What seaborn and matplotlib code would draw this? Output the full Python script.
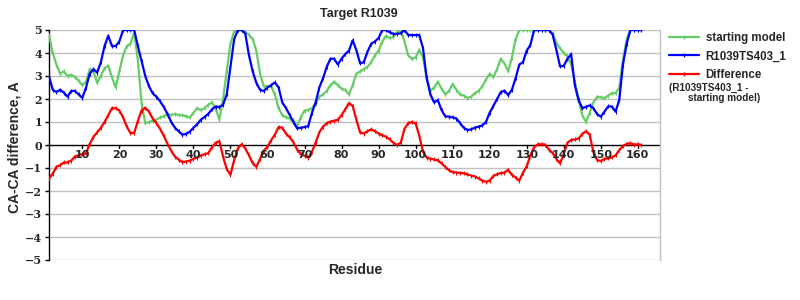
import numpy as np
import pandas as pd
import matplotlib
matplotlib.use("Agg")
import matplotlib.pyplot as plt
import seaborn as sns
from matplotlib.lines import Line2D

residues = list(range(1, 162))

starting_model = [
    4.8, 4.0, 3.5, 3.1, 3.2, 3.0, 3.05, 2.95, 2.8, 2.6,
    2.75, 3.3, 3.2, 2.7, 3.0, 3.35, 3.45, 2.95, 2.5, 3.2,
    3.9, 4.3, 4.4, 4.9, 3.7, 1.8, 0.95, 1.0, 1.05, 1.1,
    1.2, 1.25, 1.35, 1.3, 1.35, 1.3, 1.3, 1.25, 1.2, 1.4,
    1.6, 1.52, 1.6, 1.75, 1.85, 1.6, 1.1, 2.0, 3.2, 4.4,
    4.95, 5.0, 5.0, 4.9, 4.8, 4.6, 4.1, 3.1, 2.55, 2.55,
    2.55, 2.2, 1.6, 1.3, 1.2, 1.15, 1.1, 0.8, 1.2, 1.5,
    1.52, 1.6, 1.8, 2.1, 2.2, 2.35, 2.6, 2.75, 2.6, 2.45,
    2.4, 2.2, 2.6, 3.1, 3.2, 3.3, 3.4, 3.6, 3.9, 4.1,
    4.5, 4.75, 4.65, 4.7, 4.9, 5.0, 4.5, 3.9, 3.75, 3.8,
    4.15, 3.8, 2.9, 2.35, 2.5, 2.75, 2.45, 2.2, 2.35, 2.65,
    2.4, 2.2, 2.15, 2.05, 2.1, 2.25, 2.35, 2.55, 2.85, 3.1,
    2.95, 3.3, 3.75, 3.55, 3.2, 3.8, 4.6, 5.0, 5.0, 5.0,
    5.0, 5.0, 5.0, 5.0, 5.0, 5.0, 4.85, 4.45, 4.2, 4.0,
    3.85, 3.5, 2.75, 2.0, 1.3, 1.0, 1.4, 1.85, 2.1, 2.08,
    2.03, 2.15, 2.25, 2.25, 2.5, 3.7, 4.6, 5.0, 5.0, 5.0,
    5.0,
]

model_403 = [
    3.0, 2.4, 2.3, 2.4, 2.28, 2.1, 2.35, 2.35, 2.2, 2.05,
    2.5, 3.1, 3.3, 3.15, 3.6, 4.3, 4.75, 4.3, 4.3, 4.5,
    5.0, 5.0, 5.0, 5.0, 4.3, 3.65, 3.0, 2.55, 2.25, 2.1,
    1.9, 1.65, 1.35, 1.0, 0.75, 0.6, 0.45, 0.48, 0.58, 0.75,
    0.9, 1.1, 1.22, 1.35, 1.55, 1.67, 1.65, 1.75, 2.2, 3.4,
    4.6, 5.0, 5.0, 4.85, 3.9, 3.2, 2.7, 2.4, 2.35, 2.5,
    2.6, 2.72, 2.5, 1.85, 1.6, 1.3, 1.0, 0.72, 0.75, 0.78,
    0.82, 1.4, 1.85, 2.5, 2.9, 3.4, 3.75, 3.75, 3.5, 3.75,
    3.95, 4.1, 4.55, 4.13, 3.55, 3.6, 4.05, 4.4, 4.5, 4.65,
    5.0, 5.0, 4.9, 4.83, 4.83, 4.86, 5.0, 4.78, 4.78, 4.78,
    4.78, 4.2, 2.9, 2.2, 1.85, 1.95, 1.52, 1.25, 1.23, 1.2,
    1.15, 0.95, 0.75, 0.65, 0.68, 0.75, 0.8, 0.85, 1.0, 1.4,
    1.7, 2.0, 2.3, 2.36, 2.17, 2.4, 2.9, 3.5, 3.6, 4.1,
    4.35, 5.0, 5.0, 5.0, 5.0, 5.0, 4.8, 4.15, 3.42, 3.44,
    3.75, 3.95, 2.6, 1.95, 1.6, 1.66, 1.72, 1.6, 1.35, 1.23,
    1.45, 1.68, 1.67, 1.45, 1.96, 3.5, 4.4, 5.0, 5.0, 5.0,
    5.0,
]

difference = [
    -1.47, -1.25, -0.95, -0.88, -0.76, -0.76, -0.68, -0.5, -0.44, -0.4,
    -0.36, 0.05, 0.35, 0.55, 0.75, 1.0, 1.3, 1.6, 1.6, 1.5,
    1.2, 0.8, 0.52, 0.52, 1.05, 1.5, 1.62, 1.45, 1.15, 0.95,
    0.7, 0.4, 0.05, -0.25, -0.5, -0.64, -0.74, -0.72, -0.68, -0.6,
    -0.55, -0.46, -0.4, -0.36, -0.1, 0.1, 0.17, -0.5, -1.05, -1.3,
    -0.65, -0.15, 0.03, -0.15, -0.45, -0.79, -0.95, -0.6, -0.25, -0.08,
    0.21, 0.45, 0.78, 0.75, 0.5, 0.33, 0.12, -0.2, -0.4, -0.47,
    -0.55, -0.3, 0.1, 0.55, 0.8, 0.95, 1.02, 1.05, 1.1, 1.3,
    1.55, 1.82, 1.7, 1.1, 0.55, 0.5, 0.6, 0.68, 0.6, 0.5,
    0.42, 0.36, 0.25, 0.1, 0.0, 0.1, 0.7, 0.95, 1.0, 0.94,
    0.4, -0.3, -0.55, -0.6, -0.63, -0.67, -0.8, -0.95, -1.1, -1.18,
    -1.2, -1.21, -1.23, -1.28, -1.33, -1.37, -1.45, -1.55, -1.6, -1.55,
    -1.35, -1.27, -1.22, -1.2, -1.07, -1.3, -1.42, -1.55, -1.2, -0.93,
    -0.45, -0.1, 0.03, 0.03, 0.02, -0.2, -0.35, -0.6, -0.8, -0.4,
    0.1, 0.22, 0.24, 0.28, 0.48, 0.6, 0.45, -0.3, -0.65, -0.7,
    -0.6, -0.58, -0.54, -0.45, -0.22, -0.05, 0.05, 0.08, 0.02, 0.03,
    0.0,
]

series_names = ["starting model", "R1039TS403_1", "Difference"]
colors = ["#66CC66", "#0000FF", "#FF0000"]
x_ticks = list(range(10, 161, 10))
y_ticks = list(range(-5, 6))

sns.set_style("white")
plt.rcParams["font.family"] = ["Liberation Sans", "DejaVu Sans"]

fig = plt.figure(figsize=(8, 3), dpi=100)
ax = fig.add_axes([49 / 800, 1 - 260 / 300, (660 - 49) / 800, (260 - 30) / 300])

for y in y_ticks:
    if y != 0:
        ax.axhline(y, color="#C0C0C0", lw=1.0, zorder=0)

for name, vals, col in zip(series_names,
                           [starting_model, model_403, difference], colors):
    d = pd.DataFrame({"Residue": residues, "value": vals})
    sns.lineplot(data=d, x="Residue", y="value", ax=ax, color=col,
                 linewidth=1.6, marker="|", markersize=2.5,
                 markeredgecolor=col, markeredgewidth=0.8,
                 legend=False, zorder=3)

ax.axhline(0, color="black", lw=1.0, zorder=2)
ax.set_xlim(1, 166)
ax.set_ylim(-5, 5)

ax.spines["top"].set_visible(False)
ax.spines["bottom"].set_visible(False)
ax.spines["right"].set_color("#C0C0C0")
ax.spines["left"].set_color("black")
ax.spines["right"].set_linewidth(1.0)
ax.spines["left"].set_linewidth(1.0)

ax.set_yticks(y_ticks)
ax.set_yticklabels([("\u2212" + str(-v)) if v < 0 else str(v) for v in y_ticks],
                   fontsize=8, fontweight="bold", family="DejaVu Serif")
ax.tick_params(axis="y", length=3, width=1, color="black", pad=2, left=True)

ax.set_xticks([])
for t in x_ticks:
    ax.plot([t, t], [0, -0.13], color="black", lw=1, zorder=2, clip_on=False)
    ax.text(t, -0.22, str(t), ha="center", va="top", fontsize=8,
            fontweight="bold", family="DejaVu Sans")

ax.set_xlabel("")
ax.set_ylabel("")
fig.text(355 / 800, 1 - 270 / 300, "Residue", ha="center", va="center",
         fontsize=10, fontweight="bold")
fig.text(15 / 800, 1 - 147 / 300, "CA-CA difference, A", ha="center",
         va="center", rotation=90, fontsize=10, fontweight="bold")
fig.text(359 / 800, 1 - 14 / 300, "Target R1039", ha="center", va="center",
         fontsize=9, fontweight="bold")

handles = [Line2D([0], [0], color=c, lw=1.6, marker="|", markersize=2.5,
                  markeredgecolor=c) for c in colors]
leg = fig.legend(handles, series_names, loc="upper left",
                 bbox_to_anchor=(664 / 800, 1 - 27 / 300), frameon=False,
                 prop={"weight": "bold", "size": 8.3}, handlelength=2.6,
                 handletextpad=0.6, labelspacing=0.6, borderaxespad=0)
fig.text(669 / 800, 1 - 88 / 300, "(R1039TS403_1 -", ha="left", va="center",
         fontsize=7.2, fontweight="bold")
fig.text(688 / 800, 1 - 98 / 300, "starting model)", ha="left", va="center",
         fontsize=7.2, fontweight="bold")

fig.savefig("out.png", dpi=100)
